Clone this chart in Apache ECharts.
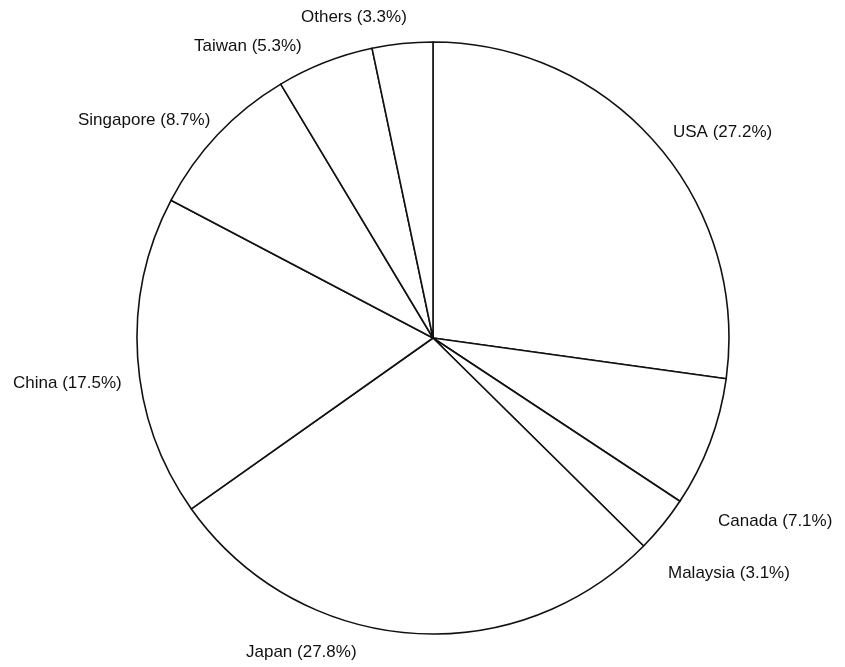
<!DOCTYPE html>
<html>
<head>
<meta charset="utf-8">
<style>
  html, body { margin: 0; padding: 0; background: #ffffff; }
  #chart { width: 845px; height: 667px; }
</style>
<script src="https://cdn.jsdelivr.net/npm/echarts@6/dist/echarts.min.js"></script>
</head>
<body>
<div id="chart"></div>
<script>
// Data (percent share by country)
const countries = ['USA', 'Canada', 'Malaysia', 'Japan', 'China', 'Singapore', 'Taiwan', 'Others'];
const shares = [27.2, 7.1, 3.1, 27.8, 17.5, 8.7, 5.3, 3.3];

// Label placement (left edge x, vertical centre y), styling only
const labelAnchors = [[673, 132], [718, 521], [668, 573], [246, 652], [13, 383], [78, 120], [194, 46], [301, 17]];

const chart = echarts.init(document.getElementById('chart'), null, { renderer: 'canvas' });
chart.setOption({
  backgroundColor: '#ffffff',
  animation: false,
  series: [{
    type: 'pie',
    center: [433, 338],
    radius: 296,
    startAngle: 90,
    clockwise: true,
    avoidLabelOverlap: false,
    silent: true,
    data: countries.map((c, i) => ({ name: c, value: shares[i] })),
    itemStyle: { color: '#ffffff', borderColor: '#111111', borderWidth: 1.6 },
    label: {
      show: true,
      position: 'outside',
      formatter: p => p.name + ' (' + p.value.toFixed(1) + '%)',
      color: '#111111',
      fontFamily: 'Liberation Sans, Arial, sans-serif',
      fontSize: 17
    },
    labelLine: { show: false },
    labelLayout: function (params) {
      const a = labelAnchors[params.dataIndex];
      return { x: a[0], y: a[1], align: 'left', verticalAlign: 'middle' };
    },
    emphasis: { disabled: true }
  }]
});
</script>
</body>
</html>
